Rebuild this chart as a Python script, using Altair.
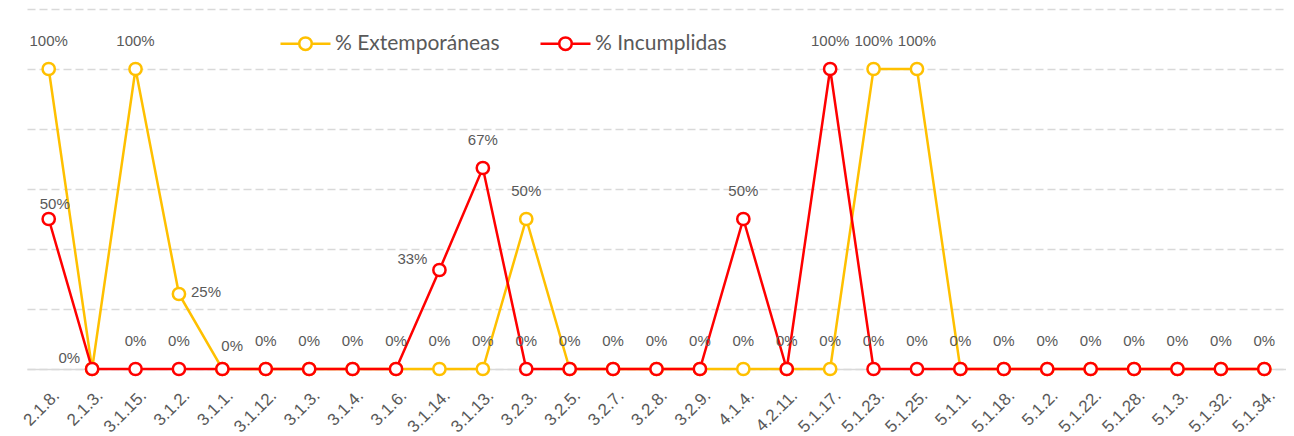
import altair as alt
import pandas as pd

categories = ["2.1.8.", "2.1.3.", "3.1.15.", "3.1.2.", "3.1.1.", "3.1.12.", "3.1.3.", "3.1.4.",
              "3.1.6.", "3.1.14.", "3.1.13.", "3.2.3.", "3.2.5.", "3.2.7.", "3.2.8.", "3.2.9.",
              "4.1.4.", "4.2.11.", "5.1.17.", "5.1.23.", "5.1.25.", "5.1.1.", "5.1.18.", "5.1.2.",
              "5.1.22.", "5.1.28.", "5.1.3.", "5.1.32.", "5.1.34."]
extemporaneas = [1.00, 0, 1.00, 0.25, 0, 0, 0, 0, 0, 0, 0, 0.50, 0, 0, 0, 0, 0, 0, 0, 1.00, 1.00,
                 0, 0, 0, 0, 0, 0, 0, 0]
incumplidas = [0.50, 0, 0, 0, 0, 0, 0, 0, 0, 0.33, 0.67, 0, 0, 0, 0, 0, 0.50, 0, 1.00, 0, 0,
               0, 0, 0, 0, 0, 0, 0, 0]
series_names = ["% Extemporáneas", "% Incumplidas"]
series_colors = ["#FFC000", "#FF0000"]

# label placement exceptions (category, label text) -> side
label_side = {("2.1.8.", "50%"): "near", ("2.1.3.", "0%"): "left", ("3.1.1.", "0%"): "low",
              ("3.1.2.", "25%"): "right", ("3.1.14.", "33%"): "left"}

rows = []
for c, e, i in zip(categories, extemporaneas, incumplidas):
    rows.append({"cat": c, "series": series_names[0], "value": e})
    rows.append({"cat": c, "series": series_names[1], "value": i})
df = pd.DataFrame(rows)

lab = []
for c, e, i in zip(categories, extemporaneas, incumplidas):
    for v in (e, i):
        if v > 0:
            t = f"{round(v * 100)}%"
            lab.append({"cat": c, "value": v, "text": t, "side": label_side.get((c, t), "above")})
    if e == 0 or i == 0:
        lab.append({"cat": c, "value": 0, "text": "0%", "side": label_side.get((c, "0%"), "above")})
ldf = pd.DataFrame(lab)

FONT = "Liberation Sans, Arial"
GREY = "#595959"

x = alt.X("cat:N", sort=categories, scale=alt.Scale(type="point", padding=0.5),
          axis=alt.Axis(title=None, labelAngle=-45, labelFont=FONT, labelFontSize=17,
                        labelColor=GREY, ticks=False, domain=True, domainColor="#D9D9D9",
                        domainWidth=1.5, labelPadding=18, labelOffset=2, grid=False))
y = alt.Y("value:Q", scale=alt.Scale(domain=[0, 1.2], nice=False),
          axis=alt.Axis(title=None, labels=False, ticks=False, domain=False,
                        values=[0, 0.2, 0.4, 0.6, 0.8, 1.0, 1.2], grid=True,
                        gridColor="#D9D9D9", gridDash=[8, 4], gridWidth=1.5))
color_scale = alt.Scale(domain=series_names, range=series_colors)
leg = alt.Legend(
    title=None, orient="none", direction="horizontal", legendX=252, legendY=8,
    symbolType="M-1,0H-0.25M0.25,0H1M-0.25,0A0.25,0.25 0 1 0 0.25,0A0.25,0.25 0 1 0 -0.25,0",
    symbolSize=2500, symbolStrokeWidth=2.5, symbolFillColor="white",
    labelFont="Lato", labelFontSize=21, labelColor=GREY, labelOffset=3, labelLimit=600,
    columnPadding=35)
color = alt.Color("series:N", scale=color_scale, legend=leg)

layers = []
for s in series_names:
    base = alt.Chart(df).transform_filter(alt.datum.series == s)
    line = base.mark_line(strokeWidth=2.5).encode(x=x, y=y, color=color)
    pts = base.mark_point(shape="circle", filled=False, fill="white", fillOpacity=1,
                          size=150, strokeWidth=2.5, opacity=1).encode(x=x, y=y, color=color)
    layers += [line, pts]

def text_layer(side, **kw):
    return alt.Chart(ldf).transform_filter(alt.datum.side == side).mark_text(
        font=FONT, fontSize=15, color=GREY, baseline="middle", **kw).encode(
        x=alt.X("cat:N", sort=categories), y="value:Q", text="text:N")

layers.append(text_layer("above", align="center", dy=-28))
layers.append(text_layer("near", align="center", dx=6, dy=-15))
layers.append(text_layer("left", align="right", dx=-12, dy=-11))
layers.append(text_layer("right", align="left", dx=12, dy=-2))
layers.append(text_layer("low", align="left", dx=-1, dy=-23))

chart = alt.layer(*layers).properties(
    width=1259, height=360,
    autosize=alt.AutoSizeParams(type="none"),
    padding={"left": 19, "top": 1, "right": 0, "bottom": 67},
).configure(background="white").configure_view(strokeWidth=0, stroke="transparent")

chart.save("out.html", embed_options={"renderer": "svg", "actions": False})
